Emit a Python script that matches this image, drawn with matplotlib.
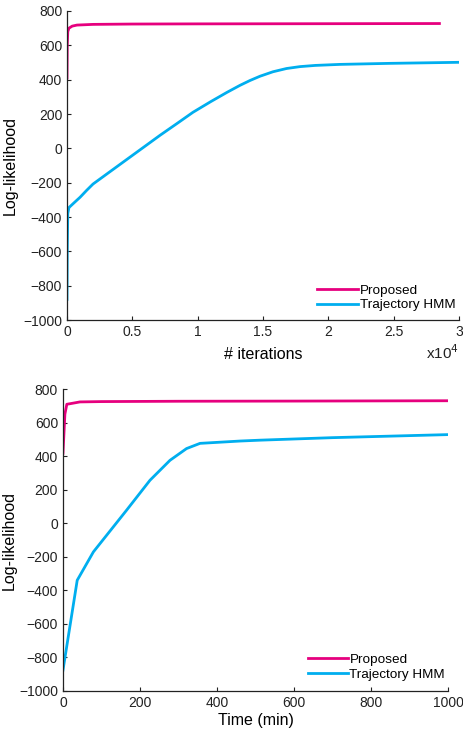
import numpy as np
import matplotlib
matplotlib.use("Agg")
import matplotlib.pyplot as plt
from matplotlib.ticker import FuncFormatter

# top panel: log-likelihood vs iterations
it_prop = [0, 20, 60, 150, 400, 765, 2000, 5000, 10000, 20000, 28500]
ll_prop = [410, 600, 680, 700, 712, 718, 722, 724, 725, 726, 727]

it_traj = [0, 20, 60, 150, 500, 1000, 1500, 1990, 3000, 4590, 6000, 7120,
           8500, 9640, 11000, 12240, 13240, 14000, 14770, 15760, 16800,
           17830, 19000, 20890, 24710, 29920]
ll_traj = [-880, -600, -380, -345, -320, -285, -245, -208, -152, -64, 14, 76,
           149, 210, 272, 326, 367, 395, 420, 446, 465,
           476, 483, 489, 495, 501]

# bottom panel: log-likelihood vs time
t_prop = [0, 5, 10, 20, 44, 100, 300, 600, 1000]
ll_prop_t = [417, 650, 709, 713, 723, 725, 727, 728, 730]

t_traj = [0, 37, 79, 165, 226, 278, 321, 356, 461, 512, 700, 997]
ll_traj_t = [-876, -340, -171, 77, 256, 375, 445, 476, 490, 495, 510, 528]

c_prop = '#E6007E'
c_traj = '#00AEEF'

plt.rcParams['font.family'] = 'Liberation Sans'

fig = plt.figure(figsize=(4.63, 7.33), dpi=100)
ax1 = fig.add_axes([0.1447, 0.5634, 0.8467, 0.4216])
ax2 = fig.add_axes([0.136, 0.0573, 0.8315, 0.412])

def style(ax, xlab):
    ax.spines['top'].set_visible(False)
    ax.spines['right'].set_visible(False)
    for s in ['left', 'bottom']:
        ax.spines[s].set_color('#222222')
        ax.spines[s].set_linewidth(0.9)
    ax.tick_params(direction='in', length=3, labelsize=10, colors='#222222',
                   labelcolor='#222222')
    ax.set_ylim(-1000, 800)
    ax.set_yticks(np.arange(-1000, 801, 200))
    ax.set_ylabel('Log-likelihood', fontsize=11.5)
    ax.yaxis.set_label_coords(xlab, 0.5)

ax1.plot(it_prop, ll_prop, color=c_prop, lw=2, label='Proposed')
ax1.plot(it_traj, ll_traj, color=c_traj, lw=2, label='Trajectory HMM')
style(ax1, -0.125)
ax1.set_xlim(0, 30000)
ax1.set_xticks(np.arange(0, 30001, 5000))
ax1.xaxis.set_major_formatter(FuncFormatter(lambda v, p: '%g' % (v / 1e4)))
ax1.set_xlabel('# iterations', fontsize=11.5, labelpad=6)
ax1.text(1.0, -0.075, r'x10$^4$', transform=ax1.transAxes, ha='right',
         va='top', fontsize=11, color='#222222')
ax1.legend(loc='lower right', frameon=False, fontsize=9.7, handlelength=3.1,
           handletextpad=0.1, labelspacing=0.15, borderpad=0,
           bbox_to_anchor=(1.008, 0.006))

ax2.plot(t_prop, ll_prop_t, color=c_prop, lw=2, label='Proposed')
ax2.plot(t_traj, ll_traj_t, color=c_traj, lw=2, label='Trajectory HMM')
style(ax2, -0.12)
ax2.set_xlim(0, 1000)
ax2.set_xticks(np.arange(0, 1001, 200))
ax2.set_xlabel('Time (min)', fontsize=11.5, labelpad=2)
ax2.legend(loc='lower right', frameon=False, fontsize=9.7, handlelength=3.0,
           handletextpad=0.1, labelspacing=0.15, borderpad=0,
           bbox_to_anchor=(1.01, 0.012))

fig.savefig('out.png', dpi=100)
